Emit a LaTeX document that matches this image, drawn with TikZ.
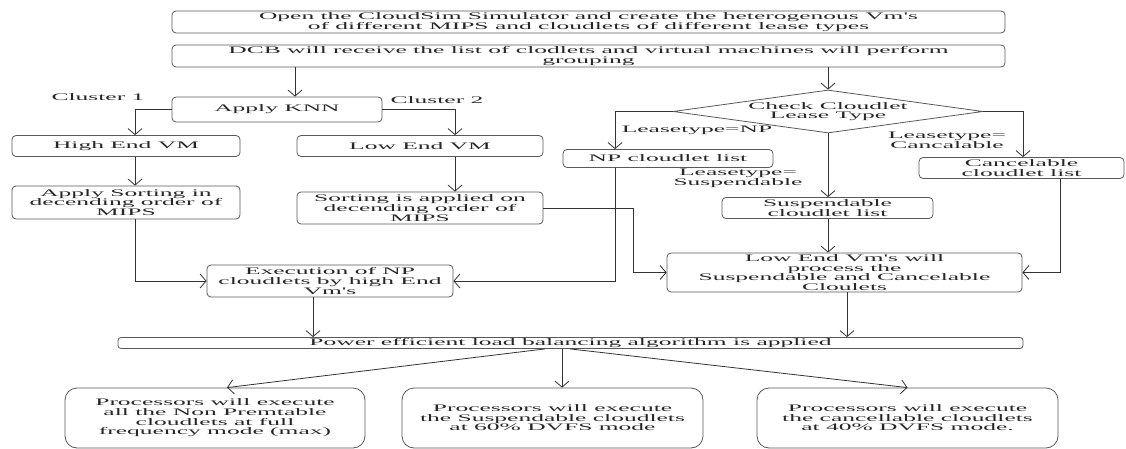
\documentclass[tikz,border=0pt]{standalone}
\usepackage{fontspec}
\newfontfamily\wf[FakeStretch=2.55]{Liberation Serif}
\usetikzlibrary{arrows.meta,shapes.geometric}
\tikzset{
  box/.style={draw=black!65, line width=0.8pt, rounded corners=4pt, inner sep=0pt, align=center, text=black!85},
  arr/.style={draw=black!80, line width=0.8pt, -{Straight Barb[length=6pt,width=14pt]}},
  lbl/.style={inner sep=0pt, align=center, text=black!85},
  every node/.style={font=\wf\fontsize{10}{9.6}\selectfont}
}
\begin{document}
\begin{tikzpicture}[x=1pt,y=-1pt]
\useasboundingbox[fill=white] (0,0) rectangle (1126,449);
% boxes
\node[box, minimum width=833, minimum height=22] (open) at (588.5,22) {Open the CloudSim Simulator and create the heterogenous Vm's\\of different MIPS and cloudlets of different lease types};
\node[box, minimum width=833, minimum height=22] (dcb) at (588.5,56) {DCB will receive the list of clodlets and virtual machines will perform\\grouping};
\node[box, minimum width=210, minimum height=25] (knn) at (277,109.5) {Apply KNN};
\node[box, minimum width=228, minimum height=21] (hi) at (126,146) {High End VM};
\node[box, minimum width=246, minimum height=21] (lo) at (420,146) {Low End VM};
\node[box, minimum width=228, minimum height=33] (sort1) at (126,202.5) {Apply Sorting in\\decending order of\\MIPS};
\node[box, minimum width=246, minimum height=32] (sort2) at (420,208) {Sorting is applied on\\decending order of\\MIPS};
\node[draw=black!65, line width=0.8pt, shape=diamond, aspect=7, inner sep=0pt, minimum width=310, minimum height=43, align=center, text=black!85] (chk) at (828,111.5) {Check Cloudlet\\Lease Type};
\node[box, minimum width=210, minimum height=18] (np) at (668,158.5) {NP cloudlet list};
\node[box, minimum width=211, minimum height=21] (sus) at (827.5,208) {Suspendable\\cloudlet list};
\node[box, minimum width=205, minimum height=21] (can) at (1021.5,168) {Cancelable\\cloudlet list};
\node[box, minimum width=246, minimum height=32] (exe) at (330,281) {Execution of NP\\cloudlets by high End\\Vm's};
\node[box, minimum width=355, minimum height=39] (low) at (844.5,272.5) {Low End Vm's will\\process the\\Suspendable and Cancelable\\Cloulets};
\node[box, rounded corners=3pt, minimum width=905, minimum height=11] (pow) at (570.5,343) {Power efficient load balancing algorithm is applied};
\node[box, rounded corners=12pt, minimum width=300, minimum height=60] (b1) at (215,418) {Processors will execute\\all the Non Premtable\\cloudlets at full\\frequency mode (max)};
\node[box, rounded corners=12pt, minimum width=301, minimum height=60] (b2) at (552.5,418) {Processors will execute\\the Suspendable cloudlets\\at 60\% DVFS mode};
\node[box, rounded corners=12pt, minimum width=301, minimum height=60] (b3) at (907.5,418) {Processors will execute\\the cancellable cloudlets\\at 40\% DVFS mode.};
% labels
\node[lbl] (c1) at (98,97) {Cluster 1};
\node[lbl] (c2) at (437,100) {Cluster 2};
\node[lbl] (lnp) at (697,130) {Leasetype=NP};
\node[lbl] (lsus) at (738,178) {Leasetype=\\Suspendable};
\node[lbl] (lcan) at (947,140) {Leasetype=\\Cancalable};
% connectors
\draw[arr] (dcb.south -| 295,0) -- (knn.north -| 295,0);
\draw[arr] (dcb.south -| chk.north) -- (chk.north);
\draw[arr] (knn.west) -| (hi.north -| 135,0);
\draw[arr] (knn.east) -| (lo.north -| 455,0);
\draw[arr] (hi.south -| 135,0) -- (sort1.north -| 135,0);
\draw[arr] (lo.south -| 455,0) -- (sort2.north -| 455,0);
\draw[arr] (sort1.south -| 135,0) |- (exe.west);
\draw[arr] (chk.west) -| (np.north -| 615,0);
\draw[arr] (np.south -| 615,0) |- (exe.east);
\draw[arr] (chk.south) -- (sus.north -| chk.south);
\draw[arr] (chk.east) -| (can.north -| 1023,0);
\draw[arr] (sus.south -| 828,0) -- (low.north -| 828,0);
\draw[arr] (sort2.east) -- (sort2.east -| 633,0) |- (low.west);
\draw[arr] (can.south -| 1060,0) |- (low.east);
\draw[arr] (exe.south -| 313,0) -- (pow.north -| 313,0);
\draw[arr] (low.south -| 847,0) -- (pow.north -| 847,0);
\draw[arr] (pow.south -| 562,0) -- (b2.north -| 562,0);
\draw[arr] (pow.south -| 545,0) -- (b1.north -| 227,0);
\draw[arr] (pow.south -| 570,0) -- (b3.north);
\end{tikzpicture}
\end{document}
